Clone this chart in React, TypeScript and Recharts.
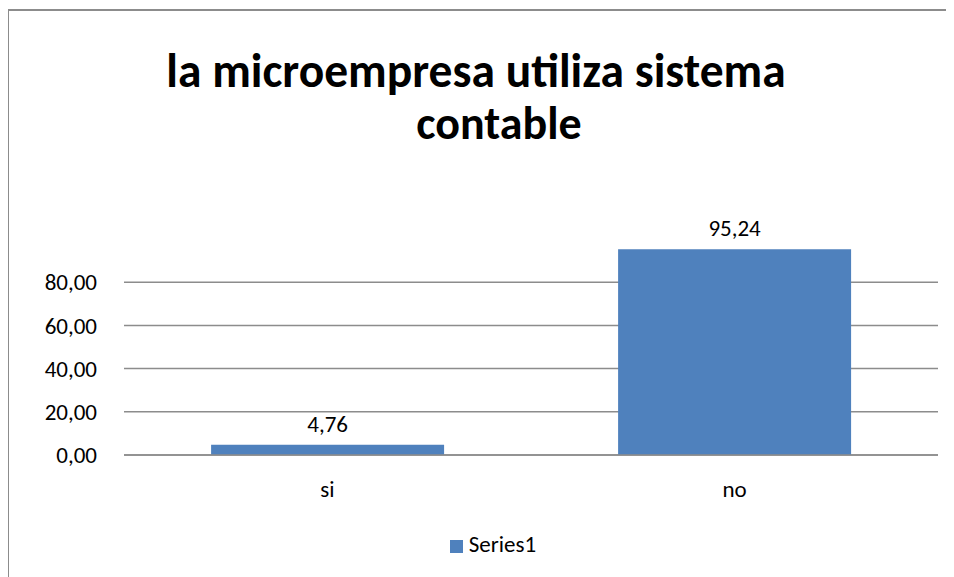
import React from 'react';
import { BarChart, Bar, XAxis, YAxis, CartesianGrid, Legend, LabelList } from 'recharts';

const categories = ['si', 'no'];
const series1 = [4.76, 95.24];
const yTicks = [0, 20, 40, 60, 80];
const titleLines = ['la microempresa utiliza sistema', 'contable'];

const FONT = 'Carlito, Lato, sans-serif';

const fmt = (v: number) => v.toFixed(2).replace('.', ',');

const data = categories.map((c, i) => ({ name: c, Series1: series1[i] }));

const titleStyle: React.CSSProperties = {
    position: 'absolute',
    textAlign: 'center',
    fontSize: 46,
    fontWeight: 'bold',
    lineHeight: '52px',
    color: '#000',
    whiteSpace: 'nowrap',
};

const App: React.FC = () => {
    return (
        <div style={{ position: 'relative', width: 946, height: 569, fontFamily: FONT }}>
            <div
                style={{
                    position: 'absolute',
                    left: -1,
                    top: 1,
                    width: 960,
                    height: 600,
                    borderLeft: '2px solid #8c8c8c',
                    borderTop: '2px solid #8c8c8c',
                    boxSizing: 'border-box',
                }}
            />
            {/* centres measured from the reference: line 1 ~474px, line 2 ~497px */}
            <div style={{ ...titleStyle, left: 0, top: 37, width: 936, fontSize: 47.5 }}>{titleLines[0]}</div>
            <div style={{ ...titleStyle, left: 0, top: 89, width: 982 }}>{titleLines[1]}</div>
            <BarChart
                width={946}
                height={569}
                data={data}
                margin={{ top: 231, right: 16, bottom: 54, left: 26 }}
                barCategoryGap="21.4%"
            >
                <CartesianGrid vertical={false} horizontalValues={yTicks} stroke="#8c8c8c" strokeWidth={1.5} />
                <XAxis
                    dataKey="name"
                    height={40}
                    axisLine={{ stroke: '#8c8c8c', strokeWidth: 1.5 }}
                    tickLine={false}
                    tickMargin={20}
                    tick={{ fill: '#000', fontSize: 23, fontFamily: FONT }}
                />
                <YAxis
                    width={90}
                    domain={[0, 100]}
                    ticks={yTicks}
                    axisLine={false}
                    tickLine={false}
                    tickSize={0}
                    tickMargin={27}
                    tickFormatter={fmt}
                    tick={{ fill: '#000', fontSize: 23, fontFamily: FONT }}
                />
                <Legend
                    verticalAlign="bottom"
                    align="center"
                    iconType="square"
                    iconSize={13}
                    wrapperStyle={{ position: 'absolute', top: 522, left: 0, width: 980, fontSize: 23, fontFamily: FONT }}
                    formatter={(v: string) => <span style={{ color: '#000', marginLeft: 2 }}>{v}</span>}
                />
                <Bar dataKey="Series1" fill="#4f81bd" isAnimationActive={false}>
                    <LabelList
                        dataKey="Series1"
                        position="top"
                        offset={13}
                        formatter={(v: number) => String(v).replace('.', ',')}
                        style={{ fill: '#000', fontSize: 23, fontFamily: FONT }}
                    />
                </Bar>
            </BarChart>
        </div>
    );
};

export default App;
